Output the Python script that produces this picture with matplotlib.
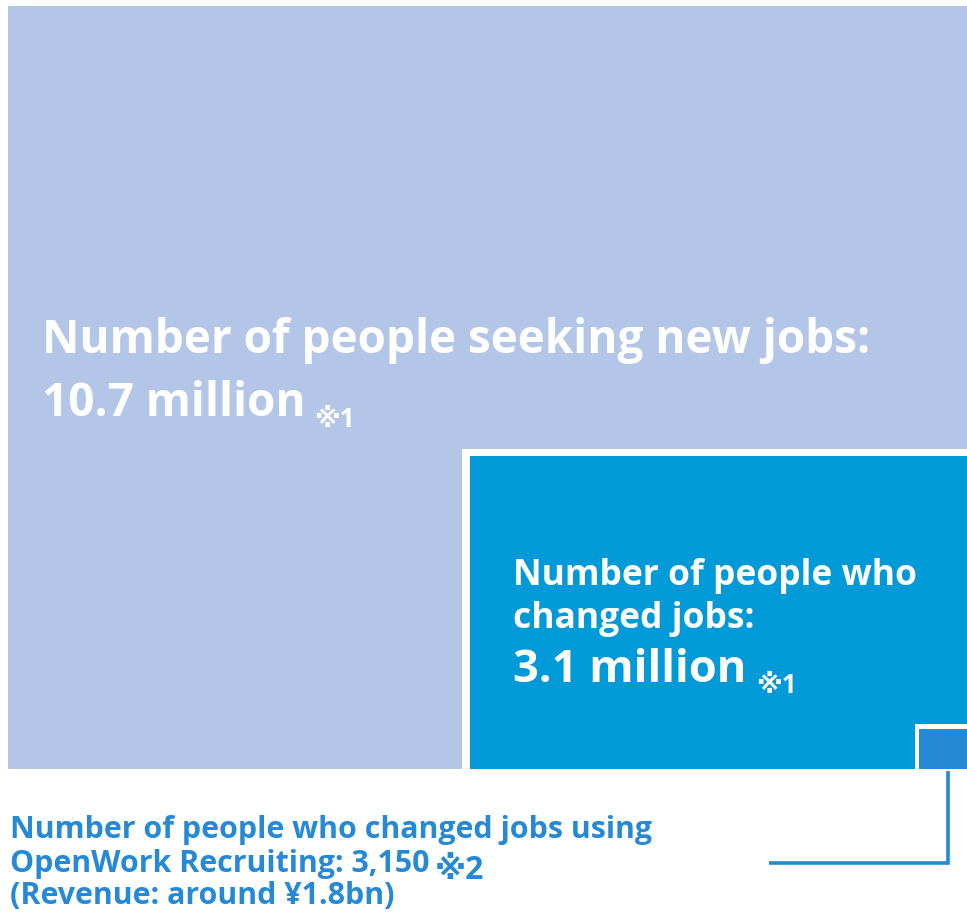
import matplotlib
matplotlib.use("Agg")
import matplotlib.pyplot as plt
from matplotlib.patches import Rectangle

# Figures shown in the nested-square graphic
seeking_label = ["Number of people seeking new jobs:", "10.7 million"]
changed_label = ["Number of people who", "changed jobs:", "3.1 million"]
openwork_label = ["Number of people who changed jobs using",
                  "OpenWork Recruiting: 3,150", "(Revenue: around ¥1.8bn)"]
notes = ["※1", "※1", "※2"]

LIGHT = "#b3c6e7"
MID = "#009ad9"
DARK = "#2589d6"
FONT = ["Open Sans", "DejaVu Sans"]

W, H = 967, 919
fig = plt.figure(figsize=(W / 100, H / 100), dpi=100)
ax = fig.add_axes([0, 0, 1, 1])
ax.set_xlim(0, W)
ax.set_ylim(H, 0)
ax.axis("off")

# Outer square: people seeking new jobs
ax.add_patch(Rectangle((8, 6), W - 8, 763, facecolor=LIGHT, edgecolor="none"))
# White frame + inner square: people who changed jobs
ax.add_patch(Rectangle((462, 449), W - 462, 320, facecolor="white", edgecolor="none"))
ax.add_patch(Rectangle((470, 456), W - 470, 313, facecolor=MID, edgecolor="none"))
# White frame + small square: OpenWork Recruiting
ax.add_patch(Rectangle((915, 724), W - 915, 45, facecolor="white", edgecolor="none"))
ax.add_patch(Rectangle((919, 729), W - 919, 40, facecolor=DARK, edgecolor="none"))

# Leader line from the small square to its caption
ax.plot([948, 948, 769], [771, 863, 863], color=DARK, lw=2.6,
        solid_joinstyle="miter", solid_capstyle="butt")

bold = dict(family=FONT, fontweight="bold", va="baseline", ha="left")


def note(anchor, text, color, size, gap):
    ax.annotate(text, xy=(1, 0), xycoords=anchor, xytext=(gap, 0),
                textcoords="offset points", color=color, fontsize=size,
                family=FONT, fontweight="bold", va="baseline", ha="left")


# Outer labels
ax.text(42, 353, seeking_label[0], color="white", fontsize=33, **bold)
t = ax.text(42, 416, seeking_label[1], color="white", fontsize=33, **bold)
note(t, notes[0], "white", 19, 6)

# Inner labels
ax.text(513, 585, changed_label[0], color="white", fontsize=25.5, **bold)
ax.text(513, 628, changed_label[1], color="white", fontsize=25.5, **bold)
t = ax.text(513, 682, changed_label[2], color="white", fontsize=32.5, **bold)
note(t, notes[1], "white", 19, 7)

# Caption below
ax.text(10, 838, openwork_label[0], color=DARK, fontsize=21.9, **bold)
t = ax.text(10, 872, openwork_label[1], color=DARK, fontsize=21.9, **bold)
note(t, notes[2], DARK, 23, 4)
ax.text(10, 904, openwork_label[2], color=DARK, fontsize=21.9, **bold)

fig.savefig("out.png", dpi=100)
